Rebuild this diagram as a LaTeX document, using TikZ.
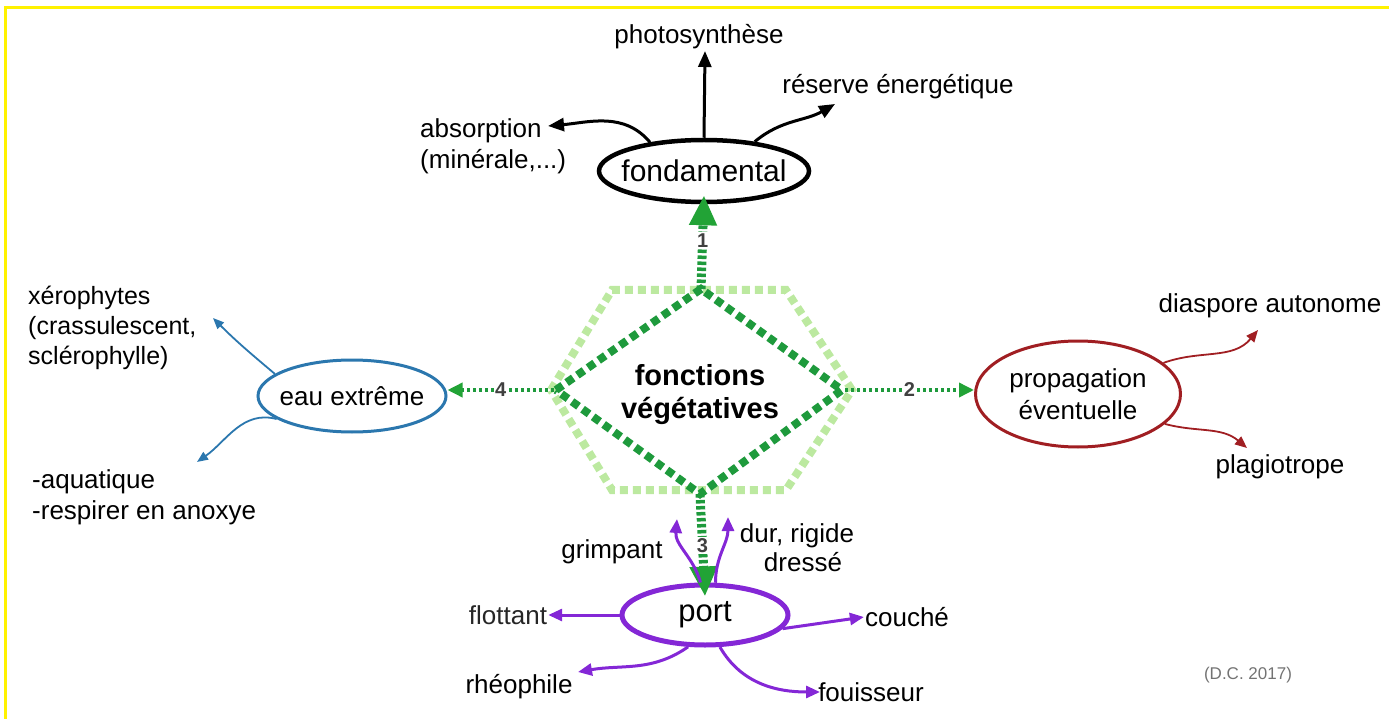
\documentclass[tikz,border=0pt]{standalone}
\usepackage{fontspec}
\setmainfont{Liberation Sans}
\usetikzlibrary{arrows.meta,shapes.geometric}
\definecolor{dkgreen}{HTML}{1E9A3C}
\definecolor{ltgreen}{HTML}{BCE9A0}
\definecolor{argreen}{HTML}{22A336}
\definecolor{eaublue}{HTML}{2B77AE}
\definecolor{propred}{HTML}{A01E22}
\definecolor{portpurple}{HTML}{8427D6}
\definecolor{numgray}{HTML}{404040}
\begin{document}
\begin{tikzpicture}[x=1pt,y=-1pt,
  txt/.style={inner sep=1pt, font=\fontsize{26}{31}\selectfont},
  oval/.style={ellipse, draw, inner sep=0pt},
  blk/.style={line width=3pt, -{Triangle[length=16pt,width=13pt]}},
  bluearr/.style={eaublue, line width=1.8pt, -{Triangle[length=11pt,width=9pt]}},
  redarr/.style={propred, line width=1.8pt, -{Triangle[length=12pt,width=10pt]}},
  purparr/.style={portpurple, line width=3pt, -{Triangle[length=14pt,width=12pt]}},
  gthick/.style={dkgreen, line width=9pt, dash pattern=on 3.5pt off 2.5pt, -{Triangle[length=30pt,width=26pt,color=argreen]}},
  gdot/.style={dkgreen, line width=3.5pt, dash pattern=on 3pt off 3pt, -{Triangle[length=15pt,width=14pt,color=argreen]}},
  numlbl/.style={fill=white, inner sep=1.5pt, text=numgray, font=\bfseries\fontsize{20}{22}\selectfont},
  hexline/.style={ltgreen, line width=8pt, dash pattern=on 8pt off 5pt},
  diamline/.style={dkgreen, line width=8pt, dash pattern=on 8pt off 5pt}
]
\useasboundingbox (0,0) rectangle (1389,719);
% yellow frame (top and left visible)
\draw[yellow, line width=3pt] (5.5,719) -- (5.5,7.5) -- (1389,7.5);

% central hexagon and diamond
\coordinate (hL) at (551,390);
\coordinate (hTL) at (612,290);
\coordinate (hTR) at (786,290);
\coordinate (hR) at (852,390);
\coordinate (hBR) at (786,490);
\coordinate (hBL) at (612,490);
\coordinate (dT) at (701,289);
\coordinate (dR) at (842,390);
\coordinate (dB) at (700,494);
\coordinate (dL) at (556,390);
\draw[hexline] (hL) -- (hTL) -- (hTR) -- (hR) -- (hBR) -- (hBL) -- cycle;
\draw[diamline] (dL) -- (dT) -- (dR) -- (dB) -- cycle;
\node[align=center, font=\bfseries\fontsize{29}{33}\selectfont, inner sep=0pt] (fv) at (700,395) {fonctions\\végétatives};

% main ellipses (outline) and their texts
\node[oval, line width=4.5pt, minimum width=210pt, minimum height=62pt] (fond) at (704,171) {};
\node[inner sep=0pt, font=\fontsize{30}{36}\selectfont] (fondtxt) at (fond.center) {fondamental};
\node[oval, draw=eaublue, line width=3pt, minimum width=188pt, minimum height=72pt] (eau) at (352,396) {};
\node[inner sep=0pt, font=\fontsize{26}{31}\selectfont] (eautxt) at (eau.center) {eau extrême};
\node[oval, draw=propred, line width=3pt, minimum width=205pt, minimum height=106pt] (prop) at (1078,394) {};
\node[inner sep=0pt, align=center, font=\fontsize{26}{32}\selectfont] (proptxt) at (prop.center) {propagation\\ éventuelle};
\node[oval, draw=portpurple, line width=5pt, minimum width=166pt, minimum height=60pt] (port) at (705,615) {};
\node[inner sep=0pt, font=\fontsize{31}{36}\selectfont] (porttxt) at (port.center) {port};

% green connectors
\draw[gthick] (dT) -- node[numlbl, pos=0.52] (n1) {1} ([yshift=9pt]fond.south);
\draw[gthick] (dB) -- node[numlbl, pos=0.5] (n3) {3} ([yshift=-14pt]port.north);
\draw[gdot] ([xshift=3pt]dR) -- node[numlbl, pos=0.5] (n2) {2} (dR -| prop.west);
\draw[gdot] ([xshift=-2pt]dL) -- node[numlbl, pos=0.5] (n4) {4} (dL -| eau.east);

% fondamental branches
\node[txt] (photo) at (699,37) {photosynthèse};
\node[txt] (reserve) at (898,87) {réserve énergétique};
\node[txt, align=left, anchor=west] (absorp) at (419,146) {absorption\\(minérale,...)};
\coordinate (photoTip) at (705,51);
\coordinate (resTip) at (835,104);
\coordinate (absTip) at (548,126);
\draw[blk] (fond.north) -- (photoTip);
\draw[blk] (fond.30) to[out=40,in=210] (resTip);
\draw[blk] (fond.152) to[out=130,in=5] (absTip);

% eau extreme branches
\node[txt, align=left, anchor=west, font=\fontsize{25}{30}\selectfont] (xero) at (27,328) {xérophytes\\(crassulescent,\\sclérophylle)};
\node[txt, align=left, anchor=west] (aqua) at (31,497) {-aquatique\\-respirer en anoxye};
\coordinate (xeroTip) at (213,318);
\coordinate (aquaTip) at (197,462);
\draw[bluearr] (eau.164) to[out=140,in=-45] (xeroTip);
\draw[bluearr] (eau.197) to[out=165,in=35] (aquaTip);

% propagation branches
\node[txt] (diasp) at (1270,306) {diaspore autonome};
\node[txt] (plagio) at (1280,467) {plagiotrope};
\coordinate (diaspTip) at (1258,330);
\coordinate (plagioTip) at (1247,448);
\draw[redarr] (prop.20) to[out=20,in=230] (diaspTip);
\draw[redarr] (prop.-19) to[out=-15,in=140] (plagioTip);

% port branches
\node[txt] (grimp) at (612,552) {grimpant};
\node[txt, align=center] (dur) at (797,548) {dur, rigide\\[-2pt]\hspace*{12pt}dressé};
\node[txt, text=black!85] (flott) at (508,615) {flottant};
\node[txt] (couche) at (907,617) {couché};
\node[txt] (rheo) at (519,687) {rhéophile};
\node[txt] (fouis) at (871,692) {fouisseur};
\coordinate (grimpTip) at (677,519);
\coordinate (durTip) at (728,517);
\coordinate (rheoTip) at (578,672);
\coordinate (fouisTip) at (820,692);
\draw[purparr] (port.98) to[out=105,in=-95] (grimpTip);
\draw[purparr] (port.72) to[out=90,in=-90] (durTip);
\draw[purparr] (port.west) -- (flott.east);
\draw[purparr] (port.-10) -- (couche.west);
\draw[purparr] (port.-118) to[out=-145,in=10] (rheoTip);
\draw[purparr] (port.-65) to[out=-60,in=180] (fouisTip);

% signature
\node[inner sep=0pt, text=black!55, font=\fontsize{17}{20}\selectfont] (sig) at (1248,675) {(D.C. 2017)};
\end{tikzpicture}
\end{document}
